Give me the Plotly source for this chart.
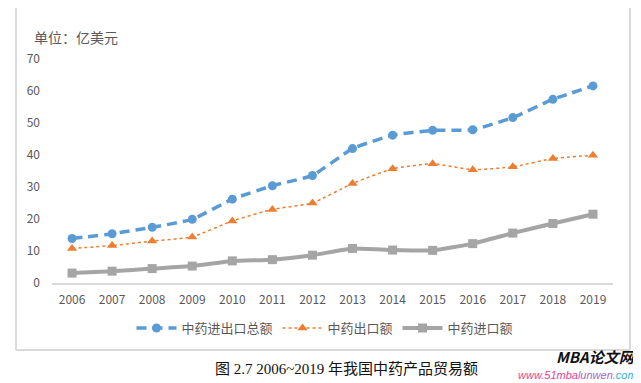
import plotly.graph_objects as go

years = ["2006", "2007", "2008", "2009", "2010", "2011", "2012",
         "2013", "2014", "2015", "2016", "2017", "2018", "2019"]
total = [13.9, 15.4, 17.4, 19.9, 26.2, 30.4, 33.6, 42.0, 46.2, 47.7, 47.9, 51.7, 57.4, 61.6]
export = [10.8, 11.7, 13.1, 14.4, 19.4, 23.0, 25.0, 31.1, 35.7, 37.3, 35.4, 36.3, 38.9, 39.9]
imports = [3.1, 3.7, 4.5, 5.3, 6.9, 7.3, 8.7, 10.8, 10.3, 10.2, 12.3, 15.6, 18.6, 21.5]
yticks = [0, 10, 20, 30, 40, 50, 60, 70]

FONT = "Noto Sans CJK SC, Noto Sans, sans-serif"
GRAY_TXT = "#595959"

# page body has an 8px margin; size the figure so that it fills the window
OFF = 8

fig = go.Figure()
fig.add_trace(go.Scatter(
    x=years, y=total, name="中药进出口总额", mode="lines+markers",
    line=dict(color="#5b9bd5", width=3.5, dash="10px,6px", shape="spline", smoothing=0.4),
    marker=dict(symbol="circle", size=9, color="#5b9bd5")))
fig.add_trace(go.Scatter(
    x=years, y=export, name="中药出口额", mode="lines+markers",
    line=dict(color="#ed7d31", width=1.5, dash="dot", shape="spline", smoothing=0.4),
    marker=dict(symbol="triangle-up", size=9, color="#ed7d31")))
fig.add_trace(go.Scatter(
    x=years, y=imports, name="中药进口额", mode="lines+markers",
    line=dict(color="#a5a5a5", width=4, shape="spline", smoothing=0.4),
    marker=dict(symbol="square", size=9, color="#a5a5a5")))

# plot area in window pixels: x 52..613, y 59..283
fig.update_layout(
    width=641 - OFF, height=383 - OFF,
    margin=dict(l=52 - OFF, r=28, t=59 - OFF, b=100, autoexpand=False),
    paper_bgcolor="white", plot_bgcolor="white",
    font=dict(family=FONT, size=12, color=GRAY_TXT),
    showlegend=True,
    legend=dict(orientation="h", x=(325 - 52) / 561, xanchor="center",
                y=(283 - 328) / 224, yanchor="middle",
                font=dict(size=13, color=GRAY_TXT), itemwidth=40, traceorder="normal"),
    xaxis=dict(type="category", range=[-0.5, 13.5], showgrid=False, showline=True,
               linecolor="#d9d9d9", linewidth=1.5, ticks="", ticklabelstandoff=5,
               tickfont=dict(size=12, color=GRAY_TXT), zeroline=False),
    yaxis=dict(range=[0, 70], tickvals=yticks, showgrid=False, showline=False,
               zeroline=False, ticks="", ticklabelstandoff=11,
               tickfont=dict(size=12, color=GRAY_TXT)),
)

# axis unit label
fig.add_annotation(x=(32 - 52) / 561, y=(283 - 37) / 224, xref="paper", yref="paper",
                   text="单位：亿美元", showarrow=False, xanchor="left", yanchor="middle",
                   font=dict(size=14, color=GRAY_TXT, family=FONT))

# chart frame (left, right, bottom)
L = (16 - 52) / 561
R = (630 - 52) / 561
B = (283 - 350) / 224
T = (283 - 0) / 224
for x0, y0, x1, y1 in [(L, B, L, T), (R, B, R, T), (L, B, R, B)]:
    fig.add_shape(type="line", xref="paper", yref="paper", x0=x0, y0=y0, x1=x1, y1=y1,
                  line=dict(color="#d9d9d9", width=2))

# caption
fig.add_annotation(x=(346 - 52) / 561, y=(283 - 369) / 224, xref="paper", yref="paper",
                   text="图 2.7 2006~2019 年我国中药产品贸易额", showarrow=False,
                   xanchor="center", yanchor="middle",
                   font=dict(size=15, color="#111111",
                             family="Liberation Serif, Noto Sans CJK SC, serif"))

# watermark
fig.add_annotation(x=(637 - 52) / 561, y=(283 - 368) / 224, xref="paper", yref="paper",
                   text="<b><i>MBA论文网</i></b>", showarrow=False, xanchor="right",
                   yanchor="bottom", borderpad=0,
                   font=dict(size=15, color="#111111", family=FONT))
fig.add_annotation(x=(638 - 52) / 561, y=(283 - 368) / 224, xref="paper", yref="paper",
                   text="<i><span style='color:#e8418f'>www.51mba</span><span style='color:#a565c8'>lunwen.</span><span style='color:#33b0d8'>com</span></i>",
                   showarrow=False, xanchor="right", yanchor="top", borderpad=0,
                   font=dict(size=11, family="Liberation Sans, sans-serif"))

fig.write_html("out.html")
